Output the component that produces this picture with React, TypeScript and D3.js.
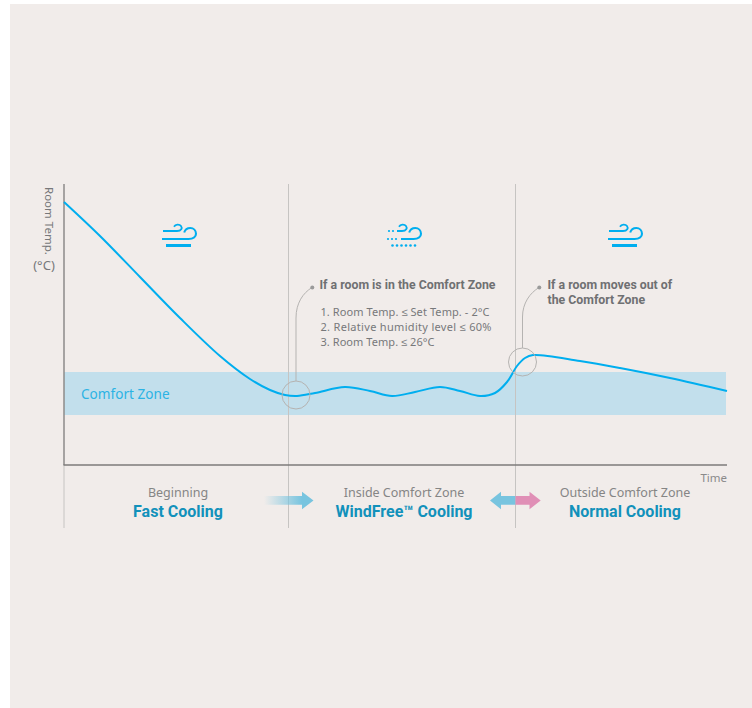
import React from "react";
import * as d3 from "d3";

const times = [0,36,76,116,156,186,206,221,233,251,281,306,328,351,376,396,416,431,443,453,461,469,516,556,606,663];
const temps = [263,229,188,147,109,86,75,70,69,72,78,74,69,73,78,74,69,72,83,99,107,110,104,97,87,74];
const comfortZone = [50, 93];
const phaseBounds = [0, 224.5, 451.5];
const phaseTop = ["Beginning", "Inside Comfort Zone", "Outside Comfort Zone"];
const phaseCenters = [114, 340, 561];
const phaseMain = ["Fast Cooling", "WindFree™ Cooling", "Normal Cooling"];
const conditions = ["1. Room Temp. ≤ Set Temp. - 2°C", "2. Relative humidity level ≤ 60%", "3. Room Temp. ≤ 26°C"];
const conditionWidths = [169, 171, 114];

const x = d3.scaleLinear().domain([0, 663]).range([64, 727]);
const y = d3.scaleLinear().domain([0, 281]).range([465, 184]);
const line = d3.line<number>().x((_, i) => x(times[i])).y(d => y(d)).curve(d3.curveCatmullRom.alpha(0.5));

const FONT = "'Noto Sans', sans-serif";
const BOLD = "Roboto, sans-serif";
const BLUE = "#00aeef";

function WindIcon({ dx, dotted }: { dx: number; dotted?: boolean }) {
  return (
    <g transform={`translate(${dx},0)`} fill="none" stroke={BLUE}>
      {dotted ? (
        <g>
          <path d="M172 231H177C181.5 231 182.5 228 181 226C179.5 224 175.5 224 174 226.7" strokeWidth={1.8} />
          <path d="M176 239H188.5C193.5 239 196 236.5 196 233.8C196 230.5 193.5 228 190.3 228C187 228 185 230 184.2 232.5" strokeWidth={2.1} />
          {[163, 167, 171].map(cx => <circle key={cx} cx={cx} cy={239} r={1.1} fill={BLUE} stroke="none" />)}
          {[164, 168].map(cx => <circle key={cx} cx={cx} cy={231} r={1.1} fill={BLUE} stroke="none" />)}
          {[167.5, 172, 176.5, 181, 185.5, 190].map(cx => <circle key={cx} cx={cx} cy={245.5} r={1.3} fill={BLUE} stroke="none" />)}
        </g>
      ) : (
        <g>
          <path d="M163 231H177C181.5 231 182.5 228 181 226C179.5 224 175.5 224 174 226.7" strokeWidth={1.8} />
          <path d="M162 239H188.5C193.5 239 196 236.5 196 233.8C196 230.5 193.5 228 190.3 228C187 228 185 230 184.2 232.5" strokeWidth={2.1} />
          <path d="M166 245.5H191" strokeWidth={3} />
        </g>
      )}
    </g>
  );
}

export default function App() {
  return (
    <svg width={752} height={708} style={{ position: "fixed", left: 0, top: 0, background: "#fff" }} fontFamily={FONT}>
      <defs>
        <linearGradient id="fade" x1="264" x2="302" y1="0" y2="0" gradientUnits="userSpaceOnUse">
          <stop offset="0" stopColor="#78c4df" stopOpacity={0} />
          <stop offset="1" stopColor="#78c4df" />
        </linearGradient>
      </defs>
      <rect x={10} y={4} width={742} height={704} fill="#f1ecea" />
      <rect x={x(0)} width={662} y={y(comfortZone[1])} height={y(comfortZone[0]) - y(comfortZone[1])} fill="#c2dfec" />

      {phaseBounds.map(b => (
        <line key={b} x1={x(b)} x2={x(b)} y1={b === 0 ? 465 : 184} y2={528} stroke="#c6c4c2" strokeWidth={1} />
      ))}
      <line x1={64} x2={64} y1={184} y2={465} stroke="#8d8b8a" strokeWidth={1.5} />
      <line x1={63.5} x2={727} y1={465} y2={465} stroke="#7d7b7a" strokeWidth={1.5} />

      <path d={line(temps) ?? ""} fill="none" stroke={BLUE} strokeWidth={2} />

      <text x={81} y={399} fontSize={13.6} fill="#2cb3e4">Comfort Zone</text>

      <text transform="translate(45,187) rotate(90)" fontSize={11.5} fill="#77787a">Room Temp.</text>
      <text x={44} y={270} fontSize={13} fill="#77787a" textAnchor="middle">(°C)</text>
      <text x={727} y={482} fontSize={11.5} fill="#8a8a8a" textAnchor="end">Time</text>

      <WindIcon dx={0} />
      <WindIcon dx={225} dotted />
      <WindIcon dx={446} />

      <g fill="none" stroke="#b5b3b1" strokeWidth={1}>
        <circle cx={296} cy={395} r={14} />
        <circle cx={522.5} cy={362} r={14} />
        <path d="M296 381V318C296 303 303 293 312 287.5" />
        <path d="M522.5 348V317C522.5 303 530 293 539 287.5" />
      </g>
      <circle cx={312.3} cy={287.5} r={2} fill="#9a9a9a" />
      <circle cx={539.3} cy={287.5} r={2} fill="#9a9a9a" />

      <g fontSize={12.3} fontWeight={700} fill="#6f7072" fontFamily={BOLD}>
        <text x={319.5} y={289}>If a room is in the Comfort Zone</text>
        <text x={547.5} y={289}>If a room moves out of</text>
        <text x={547.5} y={304}>the Comfort Zone</text>
      </g>
      <g fontSize={11} fill="#77787a">
        {conditions.map((c, i) => (
          <text key={c} x={320.5} y={316 + i * 14.8} textLength={conditionWidths[i]} lengthAdjust="spacing">{c}</text>
        ))}
      </g>

      {phaseTop.map((t, i) => (
        <text key={t} x={x(phaseCenters[i])} y={497} fontSize={12.5} fill="#858585" textAnchor="middle">{t}</text>
      ))}
      {phaseMain.map((t, i) => (
        <text key={t} x={x(phaseCenters[i])} y={517} fontSize={16} fontWeight={700} fill="#1291bb" fontFamily={BOLD} textAnchor="middle">{t}</text>
      ))}

      <path d="M264 496H302V491.7L313.5 500.5L302 509.3V504.7H264Z" fill="url(#fade)" />
      <path d="M515.5 496H501V491.7L490 500.5L501 509.3V504.7H515.5Z" fill="#78c4df" />
      <path d="M515.5 496H529.5V491.7L540.7 500.5L529.5 509.3V504.7H515.5Z" fill="#e08fb6" />
    </svg>
  );
}
